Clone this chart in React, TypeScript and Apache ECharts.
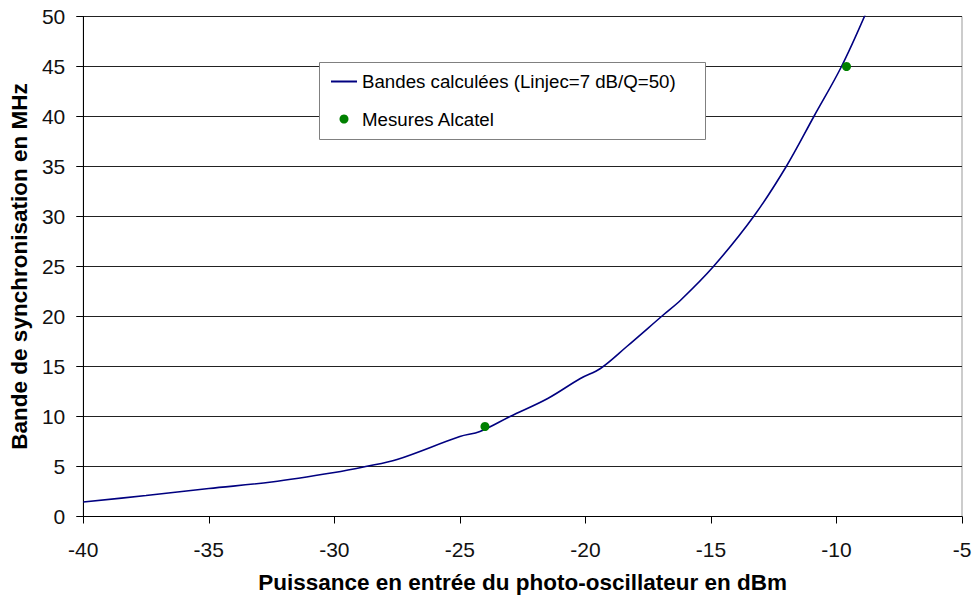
import React, { useEffect, useRef } from "react";
import * as echarts from "echarts";

const lineName = "Bandes calculées (Linjec=7 dB/Q=50)";
const measName = "Mesures Alcatel";
const lineX = [-40, -37.5, -35, -32.5, -30, -28.75, -27.5, -25, -24.2, -23, -21.5, -20.2, -19.4, -18.35, -16.9, -16.2, -14.9, -13.3, -12, -10.9, -9.8, -8.8];
const lineY = [1.45, 2.1, 2.8, 3.45, 4.4, 5.0, 5.7, 8.0, 8.5, 10.0, 11.8, 13.8, 14.8, 17.0, 20.15, 21.65, 25, 30, 35, 40, 45, 50.5];
const measX = [-24, -9.6];
const measY = [9, 45];
const xTitle = "Puissance en entrée du photo-oscillateur en dBm";
const yTitle = "Bande de synchronisation en MHz";

export default function App() {
  const ref = useRef<HTMLDivElement>(null);
  useEffect(() => {
    if (!ref.current) return;
    const chart = echarts.init(ref.current, null, { renderer: "svg" });
    const font = "Liberation Sans, Arial, sans-serif";
    chart.setOption({
      animation: false,
      backgroundColor: "#fff",
      grid: { left: 82, right: 14, top: 16.5, bottom: 86.5, show: true, borderColor: "#999", borderWidth: 1, backgroundColor: "transparent" },
      xAxis: {
        type: "value", min: -40, max: -5, interval: 5,
        name: xTitle, nameLocation: "middle", nameGap: 54,
        nameTextStyle: { fontFamily: font, fontSize: 22.5, fontWeight: "bold", color: "#000" },
        axisLine: { show: true, onZero: false, lineStyle: { color: "#000", width: 1 } },
        axisTick: { show: true, length: 7, lineStyle: { color: "#000" } },
        axisLabel: { fontFamily: font, fontSize: 21, color: "#111", margin: 22 },
        splitLine: { show: false },
      },
      yAxis: {
        type: "value", min: 0, max: 50, interval: 5,
        name: yTitle, nameLocation: "middle", nameGap: 49, nameRotate: 90,
        nameTextStyle: { fontFamily: font, fontSize: 22.5, fontWeight: "bold", color: "#000" },
        axisLine: { show: true, lineStyle: { color: "#000", width: 1 } },
        axisTick: { show: true, length: 7, lineStyle: { color: "#000" } },
        axisLabel: { fontFamily: font, fontSize: 21, color: "#111", margin: 18 },
        splitLine: { show: true, lineStyle: { color: "#222", width: 1 } },
      },
      legend: {
        orient: "vertical", left: 330, top: 72, padding: 0, itemWidth: 26, itemHeight: 9, itemGap: 18.5,
        textStyle: { fontFamily: font, fontSize: 18.7, color: "#000" },
        data: [
          { name: lineName, itemStyle: { opacity: 0 } },
          { name: measName, itemStyle: { color: "#008000", opacity: 1 } },
        ],
        z: 10,
      },
      graphic: [
        { type: "rect", z: 8, shape: { x: 319.5, y: 62.5, width: 386, height: 77 }, style: { fill: "#fff", stroke: "#808080", lineWidth: 1 } },
      ],
      series: [
        {
          name: lineName, type: "line", data: lineX.map((x, i) => [x, lineY[i]]),
          symbol: "none", showSymbol: false, smooth: 0.35, clip: true,
          lineStyle: { color: "#000080", width: 1.6 }, itemStyle: { color: "#000080" }, z: 3,
        },
        {
          name: measName, type: "scatter", data: measX.map((x, i) => [x, measY[i]]),
          symbol: "circle", symbolSize: 9, itemStyle: { color: "#008000", opacity: 1 }, z: 4,
        },
      ],
    });
    return () => chart.dispose();
  }, []);
  return <div ref={ref} style={{ position: "absolute", left: 0, top: 0, width: 976, height: 603 }} />;
}
